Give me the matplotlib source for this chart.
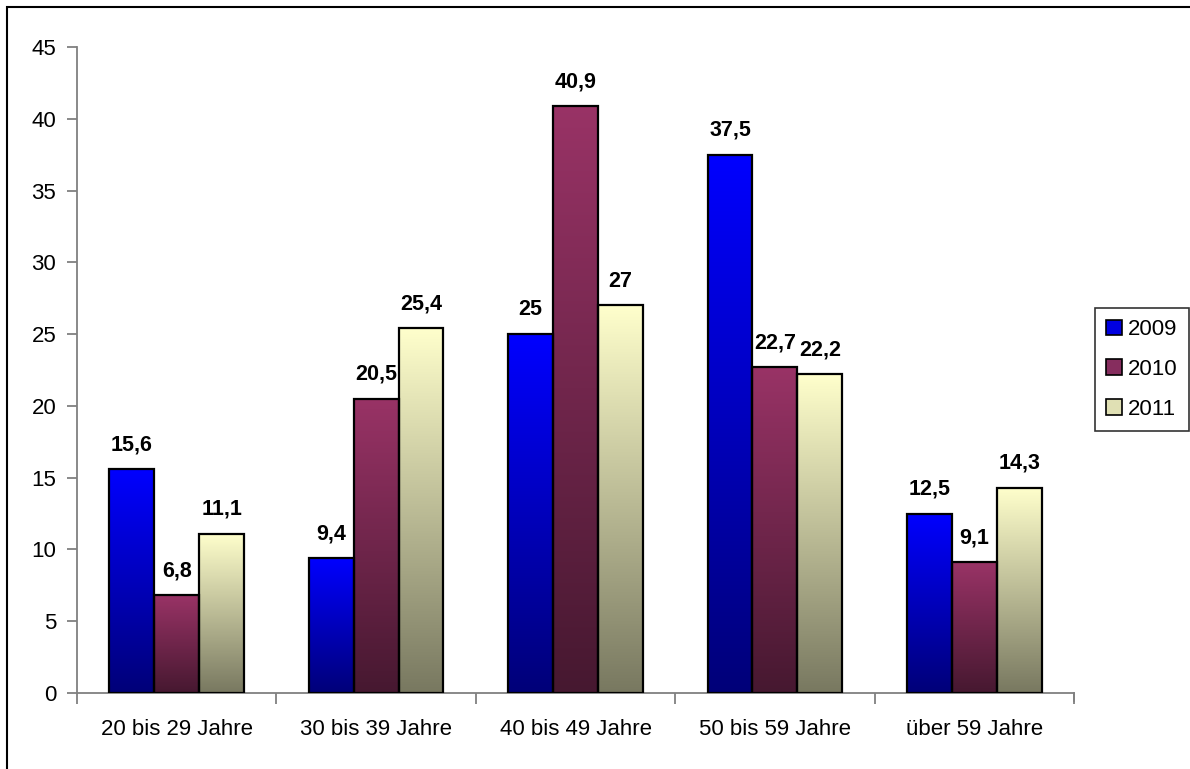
import matplotlib.pyplot as plt
import numpy as np
from matplotlib.patches import Rectangle, Patch

plt.rcParams['font.family'] = ['Liberation Sans', 'DejaVu Sans']

categories = ["20 bis 29 Jahre", "30 bis 39 Jahre", "40 bis 49 Jahre", "50 bis 59 Jahre", "über 59 Jahre"]
years = ["2009", "2010", "2011"]
v2009 = [15.6, 9.4, 25.0, 37.5, 12.5]
v2010 = [6.8, 20.5, 40.9, 22.7, 9.1]
v2011 = [11.1, 25.4, 27.0, 22.2, 14.3]
labels2009 = ["15,6", "9,4", "25", "37,5", "12,5"]
labels2010 = ["6,8", "20,5", "40,9", "22,7", "9,1"]
labels2011 = ["11,1", "25,4", "27", "22,2", "14,3"]

# top colour -> bottom colour of each bar's vertical gradient
top_cols = [(0, 0, 255), (153, 51, 102), (255, 255, 204)]
bot_cols = [(0, 0, 120), (70, 24, 48), (120, 120, 96)]
leg_cols = ["#0000e0", "#862d5e", "#e0e0b4"]

fig = plt.figure(figsize=(11.9, 7.69), dpi=100)
ax = fig.add_axes([77 / 1190, 76 / 769, (1074 - 77) / 1190, (693 - 47) / 769])

w = 0.225
x = np.arange(len(categories))
series = [v2009, v2010, v2011]
series_labels = [labels2009, labels2010, labels2011]

for k, (vals, labs) in enumerate(zip(series, series_labels)):
    t = np.array(top_cols[k]) / 255.0
    b = np.array(bot_cols[k]) / 255.0
    grad = np.linspace(0, 1, 256)[:, None, None]
    img = t[None, None, :] * (1 - grad) + b[None, None, :] * grad
    for i, v in enumerate(vals):
        xc = x[i] + (k - 1) * w
        ax.imshow(img, extent=(xc - w / 2, xc + w / 2, 0, v), origin='upper',
                  aspect='auto', interpolation='bilinear', zorder=2)
        ax.add_patch(Rectangle((xc - w / 2, 0), w, v, fill=False, edgecolor='black',
                               linewidth=1.6, zorder=3))
        ax.annotate(labs[i], (xc, v), xytext=(0, 13.5), textcoords='offset points',
                    ha='center', va='baseline', fontsize=15.5, fontweight='bold')

ax.set_xlim(-0.5, len(categories) - 0.5)
ax.set_ylim(0, 45)
ax.set_yticks(np.arange(0, 46, 5))
ax.set_xticks(x)
ax.set_xticklabels(categories)
ax.set_xticks(np.arange(-0.5, len(categories)), minor=True)
ax.tick_params(axis='x', which='major', length=0, pad=19, labelsize=16)
ax.tick_params(axis='x', which='minor', length=8, color='#808080', width=1.3)
ax.tick_params(axis='y', length=7, color='#808080', width=1.3, labelsize=16, pad=8)

for s in ['top', 'right']:
    ax.spines[s].set_visible(False)
for s in ['left', 'bottom']:
    ax.spines[s].set_color('#808080')
    ax.spines[s].set_linewidth(1.3)
ax.plot([1, 1], [0, -0.012], transform=ax.transAxes, color='#808080', lw=1.3, clip_on=False)

handles = [Patch(facecolor=c, edgecolor='black', linewidth=1.2) for c in leg_cols]
leg = fig.legend(handles, years, loc='upper left', bbox_to_anchor=(1095 / 1190, 1 - 308 / 769),
                 fontsize=16, frameon=True, fancybox=False, edgecolor='black',
                 handlelength=0.7, handleheight=0.7, handletextpad=0.3,
                 labelspacing=0.85, borderpad=0.5, borderaxespad=0)
leg.get_frame().set_linewidth(1.2)

# outer chart border
fig.patches.append(Rectangle((7 / 1190, -0.1), 1.2, 1.1 - 7 / 769, transform=fig.transFigure,
                             fill=False, edgecolor='black', linewidth=1.5))

fig.savefig("out.png", dpi=100)
